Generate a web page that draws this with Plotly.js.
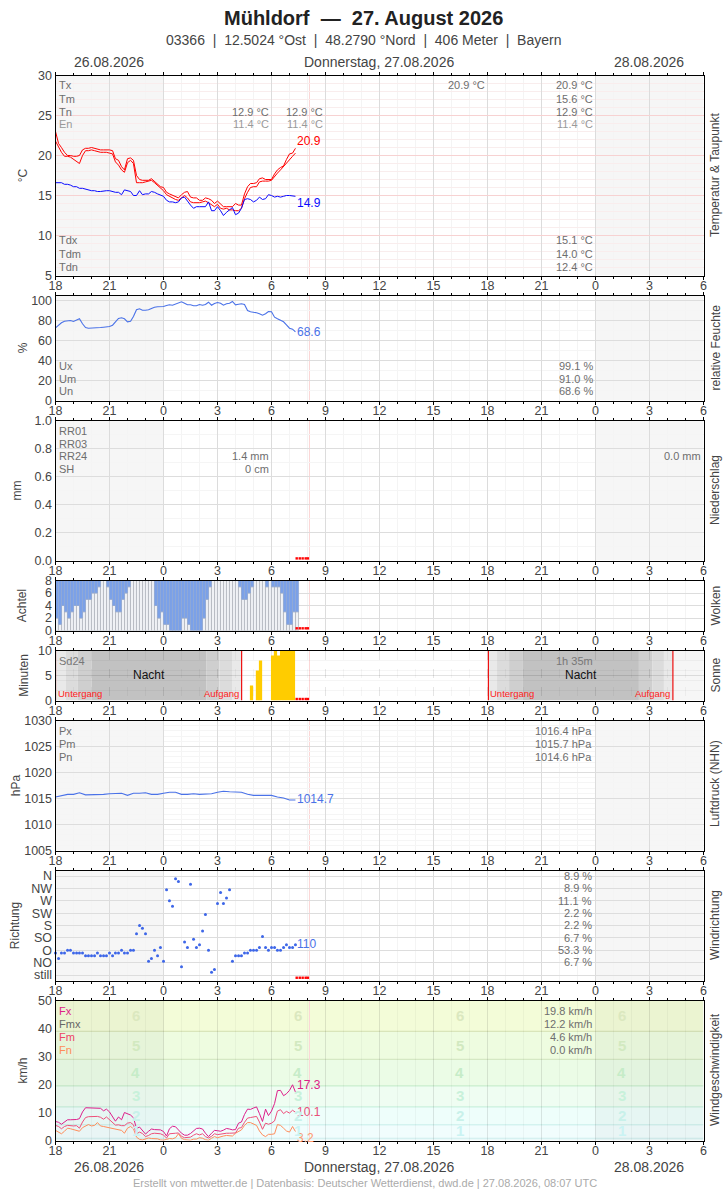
<!DOCTYPE html>
<html><head><meta charset="utf-8">
<script src="https://cdn.plot.ly/plotly-3.0.1.min.js"></script>
<style>html,body{margin:0;padding:0;background:#fff}#c{width:728px;height:1190px}</style>
</head><body><div id="c"></div>
<script>
// ---------- data (hours since 26.08. 18:00) ----------
const hours10 = [0,.17,.33,.5,.67,.83,1,1.17,1.33,1.5,
1.67,1.83,2,2.17,2.33,2.5,2.67,2.83,3,3.17,
3.33,3.5,3.67,3.83,4,4.17,4.33,4.5,4.67,4.83,
5,5.17,5.33,5.5,5.67,5.83,6,6.17,6.33,6.5,
6.67,6.83,7,7.17,7.33,7.5,7.67,7.83,8,8.17,
8.33,8.5,8.67,8.83,9,9.17,9.33,9.5,9.67,9.83,
10,10.17,10.33,10.5,10.67,10.83,11,11.17,11.33,11.5,
11.67,11.83,12,12.17,12.33,12.5,12.67,12.83,13,13.17,13.33];
const tempUpper = [23.0,21.5,21.0,20.4,20.0,20.0,19.9,19.9,20.0,20.7,
20.9,20.9,21.0,20.9,20.8,20.7,20.7,20.7,20.7,20.6,
19.6,19.4,18.6,18.2,19.6,19.7,19.4,17.5,17.0,16.9,
16.9,16.9,17.1,16.8,16.5,16.1,16.0,15.4,15.2,15.0,
14.8,14.7,15.1,15.4,15.5,14.8,14.7,14.7,14.4,14.4,
14.7,14.6,14.4,14.0,14.3,13.9,13.6,13.6,13.6,13.6,
14.0,13.8,13.8,15.2,16.1,16.5,16.5,16.6,17.1,17.2,
17.0,17.0,17.0,17.7,18.2,18.5,18.7,19.5,20.2,20.3,20.9];
const tempLower = [21.8,21.0,20.4,19.9,19.9,19.8,19.5,19.2,19.0,20.0,
20.6,20.6,20.7,20.6,20.5,20.4,20.4,20.4,20.3,20.2,
19.2,18.8,18.2,17.9,19.1,19.4,19.0,16.6,16.6,16.6,
16.7,16.8,16.9,16.6,16.3,15.9,15.6,15.1,14.9,14.7,
14.5,14.4,14.7,15.0,14.7,14.2,14.1,14.1,14.1,14.2,
14.3,14.1,13.8,13.6,13.9,13.4,13.3,13.4,13.2,13.2,
13.1,13.1,13.4,14.6,15.4,16.0,16.1,16.1,16.7,16.8,
16.8,16.8,16.9,17.4,17.8,18.2,18.6,19.0,19.4,19.9,20.3];
const dewPoint = [16.6,16.6,16.6,16.4,16.4,16.3,16.1,16.1,15.9,15.9,
15.8,15.7,15.6,15.6,15.5,15.5,15.6,15.6,15.6,15.5,
15.4,15.4,15.1,15.7,15.6,15.5,15.0,15.0,15.6,15.1,
15.2,15.2,15.5,15.4,15.2,15.1,14.9,14.4,14.2,14.2,
14.1,14.2,14.7,14.8,14.3,13.8,13.4,13.6,13.6,13.6,
13.6,14.2,13.1,13.1,13.6,13.1,12.5,12.9,13.2,13.5,
12.6,12.8,13.4,14.5,14.6,14.5,14.2,14.4,14.8,14.5,
14.6,15.1,15.0,14.8,14.9,14.8,14.9,15.0,15.0,14.9,14.9];
const humidity = [72.7,75.7,77.7,79.3,79.7,80,79,80.7,81.7,76.7,
73,72.3,72.3,72.7,72.7,73,73.3,73.3,74,75.3,
79,82,82.7,81.7,78.7,79.3,84,90.7,91.7,90.3,
90.3,90.7,92,93.3,93.7,93.7,94,95,95.7,95.3,
96.7,98,98.7,97.3,95.7,95.7,94.7,94.7,96,95.3,
96,98.3,95.3,97,98,97.3,95.3,96.7,97.3,99,
95.7,96.3,96.7,96,90,88.7,88.3,87.7,86.7,85.3,
86.7,89,88.7,83.3,81.7,80,78.7,75.7,72.3,71.3,68.6];
const cloudClear = [2,1,4,3,2,3,4,4,2,3,
5,5,6,6,7,8,8,7,5,4,
3,3,5,6,7,8,8,8,8,8,
8,8,8,4,2,3,1,1,0,0,
0,0,2,2,1,0,0,0,0,2,
5,7,8,8,8,8,8,8,8,8,
8,7,5,5,6,7,8,8,8,8,
7,8,7,7,7,6,3,1,1,3,3];
const cloudHours = [.08,.25,.42,.58,.75,.92,1.08,1.25,1.42,1.58,
1.75,1.92,2.08,2.25,2.42,2.58,2.75,2.92,3.08,3.25,
3.42,3.58,3.75,3.92,4.08,4.25,4.42,4.58,4.75,4.92,
5.08,5.25,5.42,5.58,5.75,5.92,6.08,6.25,6.42,6.58,
6.75,6.92,7.08,7.25,7.42,7.58,7.75,7.92,8.08,8.25,
8.42,8.58,8.75,8.92,9.08,9.25,9.42,9.58,9.75,9.92,
10.08,10.25,10.42,10.58,10.75,10.92,11.08,11.25,11.42,11.58,
11.75,11.92,12.08,12.25,12.42,12.58,12.75,12.92,13.08,13.25,13.42];
const sunHours = [10.89,11.22,11.39,12.06,12.22,12.39,12.56,12.72,12.89,13.06,13.22];
const sunMinutes = [3,6,8,9,10,9,10,10,10,10,10];
const pressHours = [0,.33,.67,1,1.33,1.67,2,2.33,2.67,3,3.33,3.67,4,4.33,4.67,5,5.33,5.67,6,6.33,
6.67,7,7.33,7.67,8,8.33,8.67,9,9.33,9.67,10,10.33,10.67,11,11.33,11.67,12,12.33,12.67,13,13.33];
const pressure = [1015.3,1015.5,1015.8,1015.8,1016.1,1015.7,1015.7,1015.8,1015.8,1015.9,
1015.9,1016.0,1015.6,1016.0,1016.0,1016.1,1015.8,1015.8,1016.0,1016.2,
1016.2,1015.8,1015.8,1015.9,1015.8,1015.8,1015.9,1016.2,1016.4,1016.3,
1016.3,1016.2,1015.8,1015.6,1015.6,1015.6,1015.6,1015.3,1015.1,1014.7,1014.7];
const windDir = [80,60,80,80,90,90,80,80,80,80,
70,70,70,70,80,70,70,70,80,70,
80,80,90,80,80,90,90,150,180,170,
150,50,60,90,70,100,50,310,270,250,
350,340,30,120,100,330,130,100,110,160,
220,90,10,20,260,300,260,280,310,50,
70,70,70,80,80,90,90,90,100,140,
100,90,100,100,90,90,100,110,100,100,110];
const windMax = [6.8,6.5,5.8,6.6,7.4,7.4,7.4,7.5,7.8,10.2,
11.7,11.7,11.5,11.6,11.6,11.5,10.6,11.2,10.2,8.6,
6.9,8.4,7.4,10,9.6,9.1,8.1,4.3,4.8,3.6,
2.3,3.3,4.1,3.9,3.9,3.8,3.2,1.6,4.2,5.1,
4.9,3.8,2.6,1.9,1.9,2.5,3.6,4.3,4.4,4.1,
2.6,1.4,2.6,3.6,3.5,3.3,3.7,4.3,4.1,3.8,
3.9,6.2,6.6,9.3,11.2,11.1,11.6,12,9.6,6.8,
11.2,8.9,10.5,13.2,17.8,17.9,16,16.7,17.9,19.9,17.3];
const windMean = [5.4,5.0,4.2,5.0,5.4,5.2,5.2,5.3,4.4,6.6,
8.2,8.5,8.5,8.6,8.6,8.3,7.6,8.4,7.5,6.4,
5.5,5.6,5.3,5.3,6.2,6.4,5.6,2.4,3.0,2.5,
1.4,1.8,2.4,2.6,2.6,2.4,1.9,0.9,2.4,2.4,
2.6,2.7,1.5,1.0,1.0,1.2,1.9,2.4,2.0,2.4,
1.4,0.9,1.5,2.4,2.1,2.3,2.3,2.6,2.6,2.6,
2.7,4.4,4.6,6.5,8.0,8.2,8.4,8.6,6.6,4.0,
6.2,5.8,6.2,7.0,10.5,11.0,9.6,10.4,9.8,10.8,10.1];
const windMin = [3.6,2.9,2.4,3.3,4.4,4.2,3.8,3.6,3.3,4.6,
5.2,5.7,5.2,5.4,6.4,5.2,5.0,4.8,4.6,4.3,
4.1,3.9,3.6,2.6,4.4,5.0,4.2,1.2,0.4,0.2,
0.6,0.9,0.7,0.6,0.6,0.2,0.1,0.4,0.7,0.6,
1.0,2.4,0.8,0.3,0.3,0.1,0.5,0.5,1.0,0.8,
0.3,0.1,0.8,1.4,1.0,1.4,1.6,1.8,1.6,1.6,
2.6,3.2,3.8,5.4,6.4,6.4,5.8,5.4,3.4,2.0,
1.4,2.2,2.2,2.4,5.7,5.4,4.4,3.4,3.0,5.0,3.2];
const forecastHours = [13.4,13.57,13.73,13.9,14.02];
const hourTicks = [0,3,6,9,12,15,18,21,24,27,30,33,36];
const hourLabels = ['18','21','0','3','6','9','12','15','18','21','0','3','6'];
const allHours = [1,2,4,5,7,8,10,11,13,14,16,17,19,20,22,23,25,26,28,29,31,32,34,35];
const dirTicks = [0,45,90,135,180,225,270,315,360];
const dirLabels = ['still','NO','O','SO','S','SW','W','NW','N'];
const bftEdges = [0,0.8,5.6,12,19.5,29,39,50];
const bftFill = ['#eaf9f9','#f1fdfd','#eefefb','#effdf2','#ebfce6','#eefce0','#f3fcd8'];
const bftLine = ['#cdeeee','#c5eeea','#c0eed8','#c0eac8','#cfe3bb','#d3dfb0'];
const nowHour = 14.11;
const nightSpans = [[0,6],[30,36]];
const duskStarts = [0,0.58,1.22,2,8.37,9.11,9.84];
const duskEnds   = [0.58,1.22,2,8.37,9.11,9.84,10.34];
const duskFill   = ['#e9e9e9','#dcdcdc','#cfcfcf','#c2c2c2','#cfcfcf','#dcdcdc','#e9e9e9'];
const night2Starts = [24.05,24.53,25.2,25.97,32.41,33.15,33.8];
const night2Ends   = [24.53,25.2,25.97,32.41,33.15,33.8,34.3];
const sunEvents = [0,10.34,24.05,34.3];

// ---------- panels: top/bottom pixel rows ----------
const W=728,H=1190,L=55.5,R=703.5;
const panels = [
 {top:75.5,bot:275.5,range:[5,30],minor:1,grid:'#f7d2d2',mgrid:'#f9eded',tv:[5,10,15,20,25,30],tt:['5','10','15','20','25','30'],title:'°C',st:7},
 {top:295.5,bot:400.5,range:[0,105],minor:10,grid:'#dddddd',mgrid:'#f5f5f5',tv:[0,20,40,60,80,100],tt:['0','20','40','60','80','100'],title:'%',st:0},
 {top:420.5,bot:560.5,range:[0,1],minor:.1,grid:'#dddddd',mgrid:'#f5f5f5',tv:[0,.2,.4,.6,.8,1],tt:['0.0','0.2','0.4','0.6','0.8','1.0'],title:'mm',st:10},
 {top:580.5,bot:630.5,range:[0,8],minor:0,grid:'#dddddd',mgrid:'#ffffff',tv:[0,2,4,6,8],tt:['0','2','4','6','8'],title:'Achtel',st:15},
 {top:650.5,bot:700.5,range:[0,10],minor:2,grid:'rgba(0,0,0,0.11)',mgrid:'rgba(0,0,0,0.04)',tv:[0,5,10],tt:['0','5','10'],title:'Minuten',st:6},
 {top:720.5,bot:850.5,range:[1005,1030],minor:1,grid:'#dddddd',mgrid:'#f5f5f5',tv:[1005,1010,1015,1020,1025,1030],tt:['1005','1010','1015','1020','1025','1030'],title:'hPa',st:0},
 {top:870.5,bot:980.5,range:[-20,380],minor:0,grid:'#dddddd',mgrid:'#ffffff',tv:dirTicks,tt:dirLabels,title:'Richtung',st:8},
 {top:1000.5,bot:1140.5,range:[0,50],minor:0,grid:'rgba(0,0,0,0)',mgrid:'#ffffff',tv:[0,10,20,30,40,50],tt:['0','10','20','30','40','50'],title:'km/h',st:7}
];
const tickFont={family:'"Liberation Sans",Arial,sans-serif',size:12.5,color:'#444'};
const layout={width:W,height:H,margin:{l:0,r:0,t:0,b:0},paper_bgcolor:'#fff',plot_bgcolor:'rgba(0,0,0,0)',
  showlegend:false,hovermode:false,barmode:'overlay',shapes:[],annotations:[],
  font:{family:'"Liberation Sans",Arial,sans-serif'}};
panels.forEach((p,i)=>{
  const n=i+1, xn=n===1?'xaxis':'xaxis'+n, yn=n===1?'yaxis':'yaxis'+n;
  const windPanel=i===7, sunPanel=i===4;
  layout[xn]={domain:[L/W,R/W],range:[0,36],anchor:n===1?'y':'y'+n,tickmode:'array',tickvals:hourTicks,ticktext:hourLabels,
    tickfont:tickFont,ticks:'outside',ticklen:3,tickwidth:1,tickcolor:'#000',showline:true,linecolor:'#000',linewidth:1,mirror:'allticks',ticklabelstandoff:-5,
    showgrid:true,gridcolor:windPanel?'rgba(0,0,0,0.1)':sunPanel?'rgba(0,0,0,0.1)':'#dcdcdc',gridwidth:1,griddash:sunPanel?'dash':'solid',zeroline:false,
    minor:{tickmode:'array',tickvals:allHours,ticks:'outside',ticklen:2,tickwidth:1,tickcolor:'#000',showgrid:true,gridcolor:windPanel?'rgba(0,0,0,0.035)':sunPanel?'rgba(0,0,0,0.04)':'#f4f4f4',gridwidth:1}};
  const ya={domain:[1-p.bot/H,1-p.top/H],range:p.range,anchor:n===1?'x':'x'+n,tickmode:'array',tickvals:p.tv,ticktext:p.tt,
    tickfont:tickFont,ticks:'',ticklen:0,showline:true,linecolor:'#000',linewidth:1,mirror:true,
    showgrid:true,gridcolor:p.grid,gridwidth:1,zeroline:false,
    title:{text:p.title,font:{family:tickFont.family,size:12,color:'#444'},standoff:p.st}};
  if(p.minor) ya.minor={dtick:p.minor,tick0:p.range[0],showgrid:true,gridcolor:p.mgrid,gridwidth:1,ticks:''};
  layout[yn]=ya;
});
function xr(i){return i===0?'x':'x'+(i+1)}
function yr(i){return i===0?'y':'y'+(i+1)}
function rect(i,x0,x1,y0,y1,fill){layout.shapes.push({type:'rect',layer:'below',xref:xr(i),yref:yr(i),x0,x1,y0,y1,fillcolor:fill,line:{width:0}})}
function vline(i,x,color,w){layout.shapes.push({type:'line',layer:'below',xref:xr(i),yref:yr(i),x0:x,x1:x,y0:panels[i].range[0],y1:panels[i].range[1],line:{color,width:w||1}})}

// backgrounds
bftFill.forEach((c,k)=>rect(7,0,36,bftEdges[k],bftEdges[k+1],c));
bftLine.forEach((c,k)=>layout.shapes.push({type:'line',layer:'below',xref:xr(7),yref:yr(7),x0:0,x1:36,y0:bftEdges[k+1],y1:bftEdges[k+1],line:{color:c,width:1}}));
[0,1,2,4,5,6,7].forEach(i=>nightSpans.forEach(s=>{ if(i===4&&s[0]===0) return; rect(i,s[0],s[1],panels[i].range[0],panels[i].range[1],i===7?'rgba(60,60,60,0.045)':'rgba(0,0,0,0.037)')}));
duskStarts.forEach((s,k)=>rect(4,s,duskEnds[k],0,10,duskFill[k]));
night2Starts.forEach((s,k)=>rect(4,s,night2Ends[k],0,10,duskFill[k]));
panels.forEach((p,i)=>vline(i,nowHour,'#fbd6d6'));

// text helpers (pixel positions)
function txt(x,y,s,color,size,anchor,extra){layout.annotations.push(Object.assign({xref:'paper',yref:'paper',x:x/W,y:1-y/H,text:s,showarrow:false,
  xanchor:anchor||'left',yanchor:'middle',font:{family:tickFont.family,size:size||11,color:color||'#6e6e6e'},borderpad:0,borderwidth:0},extra||{}))}
txt(363.5,18,'<b>Mühldorf  —  27. August 2026</b>','#222',20,'center');
txt(363.5,40,'03366  |  12.5024 °Ost  |  48.2790 °Nord  |  406 Meter  |  Bayern','#444',14,'center');
[62,1167].forEach(y=>{txt(109,y,'26.08.2026','#444',14,'center');txt(379,y,'Donnerstag, 27.08.2026','#444',14,'center');txt(649,y,'28.08.2026','#444',14,'center');});
txt(364.5,1182.5,'Erstellt von mtwetter.de | Datenbasis: Deutscher Wetterdienst, dwd.de | 27.08.2026, 08:07 UTC','#aaa',11,'center');
const grey='#6e6e6e',lgrey='#999';
// temperature
[['Tx',85.5],['Tm',98.5],['Tn',111.5]].forEach(a=>txt(59,a[1],a[0],grey));txt(59,124.5,'En',lgrey);
txt(269,111.5,'12.9 °C',grey,11,'right');txt(323,111.5,'12.9 °C',grey,11,'right');
txt(269,124.5,'11.4 °C',lgrey,11,'right');txt(323,124.5,'11.4 °C',lgrey,11,'right');
txt(485,85.5,'20.9 °C',grey,11,'right');
[['20.9 °C',85.5],['15.6 °C',98.5],['12.9 °C',111.5]].forEach(a=>txt(593,a[1],a[0],grey,11,'right'));txt(593,124.5,'11.4 °C',lgrey,11,'right');
[['Tdx','15.1 °C',240.5],['Tdm','14.0 °C',253.5],['Tdn','12.4 °C',266.5]].forEach(a=>{txt(59,a[2],a[0],grey);txt(593,a[2],a[1],grey,11,'right')});
txt(297,141,'20.9','#ff0000',12);txt(297,203,'14.9','#0a0aff',12);
// humidity
[['Ux','99.1 %',365.5],['Um','91.0 %',378.5],['Un','68.6 %',391.5]].forEach(a=>{txt(59,a[2],a[0],grey);txt(593,a[2],a[1],grey,11,'right')});
txt(297,331.5,'68.6','#4a72e8',12);
// precipitation
[['RR01',430.5],['RR03',443.5],['RR24',456.5],['SH',469.5]].forEach(a=>txt(59,a[1],a[0],grey));
txt(269,456.5,'1.4 mm',grey,11,'right');txt(269,469.5,'0 cm',grey,11,'right');txt(701,456.5,'0.0 mm',grey,11,'right');
// sun
txt(59,660.5,'Sd24','#777');txt(149,675,'Nacht','#111',12,'center');txt(581,675,'Nacht','#111',12,'center');
txt(58,693,'Untergang','#ff2020',9.5);txt(239,693,'Aufgang','#ff2020',9.5,'right');
txt(490,693,'Untergang','#ff2020',9.5);txt(670,693,'Aufgang','#ff2020',9.5,'right');
txt(593,660.5,'1h 35m','#777',11,'right');
// pressure
[['Px','1016.4 hPa',730.5],['Pm','1015.7 hPa',743.5],['Pn','1014.6 hPa',756.5]].forEach(a=>{txt(59,a[2],a[0],grey);txt(592,a[2],a[1],grey,11,'right')});
txt(297,799.5,'1014.7','#4a72e8',12);
// wind direction
[['8.9 %',875.5],['8.9 %',888],['11.1 %',900.5],['2.2 %',912.5],['2.2 %',925],['6.7 %',937.5],['53.3 %',949.5],['6.7 %',962]].forEach(a=>txt(592,a[1],a[0],grey,11,'right'));
txt(297,944,'110','#4a72e8',12);
// wind speed
[['Fx','#dd2288',1010.5],['Fmx','#666',1023.5],['Fm','#ee4466',1036.5],['Fn','#ff8c5a',1049.5]].forEach(a=>txt(59,a[2],a[0],a[1]));
[['19.8 km/h',1010.5],['12.2 km/h',1023.5],['4.6 km/h',1036.5],['0.0 km/h',1049.5]].forEach(a=>txt(592,a[1],a[0],grey,11,'right'));
txt(297,1084.5,'17.3','#dd2288',12);txt(297,1111.5,'10.1','#e8507a',12);txt(297,1138,'3.2','#ff9a70',12);
[[135.5],[297.5],[459.5],[621.5]].forEach(a=>{
 [['6','#dbe8bf',1015.5],['5','#d2e9c0',1045],['4','#c6ecc8',1072.5],['3','#c8f1da',1095.5],['2','#c8f1ea',1115.5],['1','#caf3f3',1130.5]].forEach(b=>txt(a[0],b[2],'<b>'+b[0]+'</b>',b[1],15,'center'));
});
// right-hand panel names
[['Temperatur &amp; Taupunkt',175],['relative Feuchte',347.5],['Niederschlag',490],['Wolken',605.5],['Sonne',675.5],['Luftdruck (NHN)',784],['Windrichtung',925],['Windgeschwindigkeit',1070]]
 .forEach(a=>layout.annotations.push({xref:'paper',yref:'paper',x:715/W,y:1-a[1]/H,text:a[0],showarrow:false,textangle:-90,xanchor:'center',yanchor:'middle',font:{family:tickFont.family,size:12,color:'#444'}}));

// ---------- traces ----------
const line=(x,y,i,color,w)=>({type:'scatter',mode:'lines',x,y,xaxis:xr(i),yaxis:yr(i),line:{color,width:w||1},cliponaxis:true});
const dots=(i,yval)=>({type:'scatter',mode:'markers',x:forecastHours,y:forecastHours.map(()=>yval),xaxis:xr(i),yaxis:yr(i),marker:{symbol:'square',size:2.4,color:'#ff0000',line:{width:0}},cliponaxis:false});
const data=[
 line(hours10,tempUpper,0,'#ff0000'),
 line(hours10,tempLower,0,'#ff0000'),
 line(hours10,dewPoint,0,'#0a0aff'),
 line(hours10,humidity,1,'#4a72e8',1.1),
 dots(2,0.015),
 {type:'bar',x:cloudHours,y:cloudClear,width:1/6,xaxis:xr(3),yaxis:yr(3),marker:{color:'#f0f2f6',line:{color:'#b0b4bc',width:0.8}}},
 {type:'bar',x:cloudHours,y:cloudClear.map(v=>8-v),base:cloudClear,width:1/6,xaxis:xr(3),yaxis:yr(3),marker:{color:'#7ba1e8',line:{color:'#90a8d4',width:0.8}}},
 dots(3,0.35),
 {type:'bar',x:sunHours,y:sunMinutes,width:0.18,xaxis:xr(4),yaxis:yr(4),marker:{color:'#ffcc00',line:{width:0}}},
 dots(4,0.3),
 line(pressHours,pressure,5,'#4a72e8',1.1),
 {type:'scatter',mode:'markers',x:hours10,y:windDir,xaxis:xr(6),yaxis:yr(6),marker:{size:3,color:'#3d66e8',line:{width:0}},cliponaxis:false},
 dots(6,-10),
 line(hours10,windMin,7,'#ff8c5a'),
 line(hours10,windMean,7,'#ee4f7a'),
 line(hours10,windMax,7,'#dd1f8a')
];
// sunset / sunrise markers
sunEvents.forEach(h=>data.push({type:'scatter',mode:'lines',x:[h,h],y:[0,10],xaxis:xr(4),yaxis:yr(4),line:{color:'#ee1111',width:1.2},cliponaxis:false}));

Plotly.newPlot('c',data,layout,{staticPlot:true,displayModeBar:false});
</script></body></html>
